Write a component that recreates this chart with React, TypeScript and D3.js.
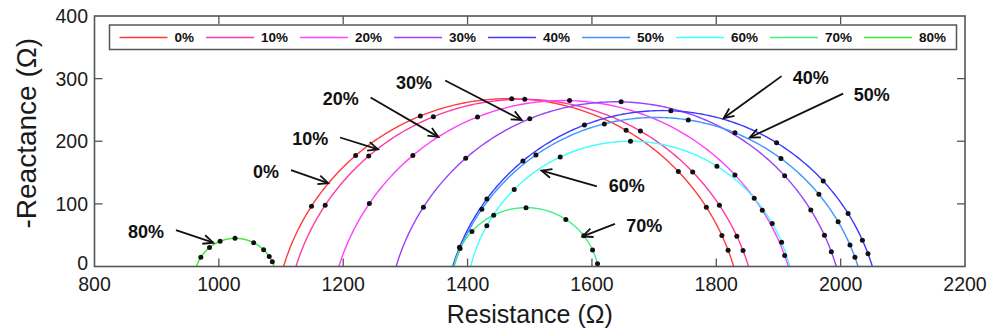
import React from 'react';
import * as d3 from 'd3';

// ---- data ----
const seriesNames = ['0%', '10%', '20%', '30%', '40%', '50%', '60%', '70%', '80%'];
const seriesColors = ['#ff3b3b', '#ff3aa2', '#ff40ff', '#9a40ff', '#3b3bff', '#3d97ff', '#40ffff', '#40ef85', '#3ee82e'];
// fitted (depressed) semicircle arcs: left intercept, right intercept, peak reactance
const arcStart = [1104, 1124, 1193, 1285, 1376, 1378, 1405, 1378, 964];
const arcEnd = [1828, 1852, 1916, 1993, 2051, 2028, 1918, 1610, 1089];
const arcPeak = [268, 267, 265, 263, 249, 238, 200, 94, 45];
// measured points (resistance, placed on the fitted arc)
const dots0 = [1149, 1220, 1324, 1471, 1655, 1739, 1784, 1809, 1819];
const dots10 = [1171, 1241, 1345, 1492, 1678, 1762, 1805, 1833, 1843];
const dots20 = [1242, 1312, 1416, 1564, 1830, 1874, 1910];
const dots30 = [1329, 1397, 1500, 1647, 1910, 1952, 1974, 1985];
const dots40 = [1387, 1431, 1489, 1588, 1727, 1897, 1972, 2012, 2035, 2044];
const dots50 = [1423, 1510, 1620, 1755, 1830, 1904, 1965, 1996, 2015, 2023];
const dots60 = [1431, 1475, 1549, 1662, 1801, 1861, 1890, 1905];
const dots70 = [1388, 1407, 1442, 1494, 1558, 1587, 1601, 1609];
const dots80 = [971, 985, 1002, 1026, 1056, 1072, 1081, 1086];
const seriesDots = [dots0, dots10, dots20, dots30, dots40, dots50, dots60, dots70, dots80];

const xTicks = [800, 1000, 1200, 1400, 1600, 1800, 2000, 2200];
const yTicks = [0, 100, 200, 300, 400];

// annotation labels (data coordinates): label, text x/y, arrow from x/y, arrow to x/y
const annLabels = ['30%', '20%', '10%', '0%', '80%', '40%', '50%', '60%', '70%'];
const annTextX = [1314, 1196, 1147, 1076, 883, 1952, 2050, 1656, 1684];
const annTextY = [294, 269, 204, 152, 56, 301, 274, 130, 66];
const annFromX = [1364, 1244, 1195, 1116, 931, 1905, 2004, 1608, 1637];
const annFromY = [297, 270, 206, 154, 58, 304, 276, 128, 68];
const annToX = [1487, 1353, 1256, 1176, 991, 1812, 1854, 1519, 1585];
const annToY = [234, 207, 187, 133, 38, 237, 206, 153, 48];

const W = 988;
const H = 331;
const left = 94.5, right = 965, top = 16, bottom = 266.5;
const FONT = "Arial, 'Liberation Sans', Helvetica, sans-serif";

function arcGeom(i: number) {
  const x0 = arcStart[i], x1 = arcEnd[i], h = arcPeak[i];
  const cx = (x0 + x1) / 2;
  const half = (x1 - x0) / 2;
  const R = (half * half + h * h) / (2 * h);
  const cy = h - R;
  return { cx, cy, R };
}

export default function App() {
  const x = d3.scaleLinear().domain([800, 2200]).range([left, right]);
  const y = d3.scaleLinear().domain([0, 400]).range([bottom, top]);
  const line = d3.line<[number, number]>().x((d) => x(d[0])).y((d) => y(d[1]));

  const arcs = seriesNames.map((_, i) => {
    const { cx, cy, R } = arcGeom(i);
    const ts = Math.asin(-cy / R);
    const pts: [number, number][] = d3.range(0, 201).map((k) => {
      const t = Math.PI - ts - (k / 200) * (Math.PI - 2 * ts);
      return [cx + R * Math.cos(t), Math.max(0, cy + R * Math.sin(t))];
    });
    return line(pts) as string;
  });

  const dots = seriesDots.map((arr, i) => {
    const { cx, cy, R } = arcGeom(i);
    return arr.map((rx) => {
      const dx = rx - cx;
      const v = cy + Math.sqrt(Math.max(0, R * R - dx * dx));
      return [rx, Math.max(0, v)] as [number, number];
    });
  });

  // legend layout
  const legFont = 13.5;
  const legendItems: { lx: number; tx: number }[] = [];
  let cur = 119.5;
  seriesNames.forEach((n) => {
    const tw = ((n.length - 1) * 0.556 + 0.889) * legFont;
    legendItems.push({ lx: cur, tx: cur + 55 });
    cur = cur + 55 + tw + 12;
  });

  const arrowHead = (x1: number, y1: number, x2: number, y2: number) => {
    const a = Math.atan2(y2 - y1, x2 - x1);
    const L = 11, sp = 0.42;
    const p1 = [x2 - L * Math.cos(a - sp), y2 - L * Math.sin(a - sp)];
    const p2 = [x2 - L * Math.cos(a + sp), y2 - L * Math.sin(a + sp)];
    return `M${p1[0]},${p1[1]}L${x2},${y2}L${p2[0]},${p2[1]}`;
  };

  const axisColor = '#555';
  const tickLen = 8;

  return (
    <svg width={W} height={H} style={{ position: 'absolute', left: 0, top: 0, background: '#fff' }} fontFamily={FONT}>
      <rect x={0} y={0} width={W} height={H} fill="#fff" />
      <defs>
        <clipPath id="clip">
          <rect x={left} y={top} width={right - left} height={bottom - top + 1} />
        </clipPath>
      </defs>
      {/* curves */}
      <g clipPath="url(#clip)">
        {arcs.map((d, i) => (
          <path key={i} d={d} fill="none" stroke={seriesColors[i]} strokeWidth={1.4} />
        ))}
        {dots.map((arr, i) =>
          arr.map((p, j) => <circle key={`${i}-${j}`} cx={x(p[0])} cy={y(p[1])} r={2.5} fill="#111" />)
        )}
      </g>
      {/* axes box & ticks */}
      <rect x={left} y={top} width={right - left} height={bottom - top} fill="none" stroke={axisColor} strokeWidth={1.6} />
      {xTicks.slice(1, -1).map((t) => (
        <g key={`xt${t}`}>
          <line x1={x(t)} x2={x(t)} y1={bottom} y2={bottom - tickLen} stroke={axisColor} strokeWidth={1.3} />
          <line x1={x(t)} x2={x(t)} y1={top} y2={top + tickLen} stroke={axisColor} strokeWidth={1.3} />
        </g>
      ))}
      {yTicks.slice(1, -1).map((t) => (
        <g key={`yt${t}`}>
          <line x1={left} x2={left + tickLen} y1={y(t)} y2={y(t)} stroke={axisColor} strokeWidth={1.3} />
          <line x1={right} x2={right - tickLen} y1={y(t)} y2={y(t)} stroke={axisColor} strokeWidth={1.3} />
        </g>
      ))}
      {xTicks.map((t) => (
        <text key={`xl${t}`} x={x(t)} y={291} textAnchor="middle" fontSize={19.5} fill="#1a1a1a">
          {t}
        </text>
      ))}
      {yTicks.map((t) => (
        <text key={`yl${t}`} x={88} y={y(t) - (t === 0 ? 4 : 0)} dy="0.36em" textAnchor="end" fontSize={19.5} fill="#1a1a1a">
          {t}
        </text>
      ))}
      <text x={(left + right) / 2} y={323} textAnchor="middle" fontSize={25} fill="#1a1a1a">
        Resistance (Ω)
      </text>
      <text transform={`translate(36,${(top + bottom) / 2 - 8}) rotate(-90)`} textAnchor="middle" fontSize={28} fill="#1a1a1a">
        -Reactance (Ω)
      </text>
      {/* annotations */}
      {annLabels.map((lab, i) => {
        const x1 = x(annFromX[i]), y1 = y(annFromY[i]), x2 = x(annToX[i]), y2 = y(annToY[i]);
        return (
          <g key={`an${i}`}>
            <text x={x(annTextX[i])} y={y(annTextY[i])} dy="0.36em" textAnchor="middle" fontSize={18} fontWeight="bold" fill="#111">
              {lab}
            </text>
            <line x1={x1} y1={y1} x2={x2} y2={y2} stroke="#111" strokeWidth={1.8} />
            <path d={arrowHead(x1, y1, x2, y2)} fill="none" stroke="#111" strokeWidth={1.8} />
          </g>
        );
      })}
      {/* legend */}
      <rect x={109.5} y={25} width={847} height={24.5} fill="#fff" stroke={axisColor} strokeWidth={1.5} />
      {seriesNames.map((n, i) => (
        <g key={`lg${i}`}>
          <line x1={legendItems[i].lx} x2={legendItems[i].lx + 48} y1={37.5} y2={37.5} stroke={seriesColors[i]} strokeWidth={1.5} />
          <text x={legendItems[i].tx} y={37.5} dy="0.36em" fontSize={legFont} fontWeight="bold" fill="#111">
            {n}
          </text>
        </g>
      ))}
    </svg>
  );
}
